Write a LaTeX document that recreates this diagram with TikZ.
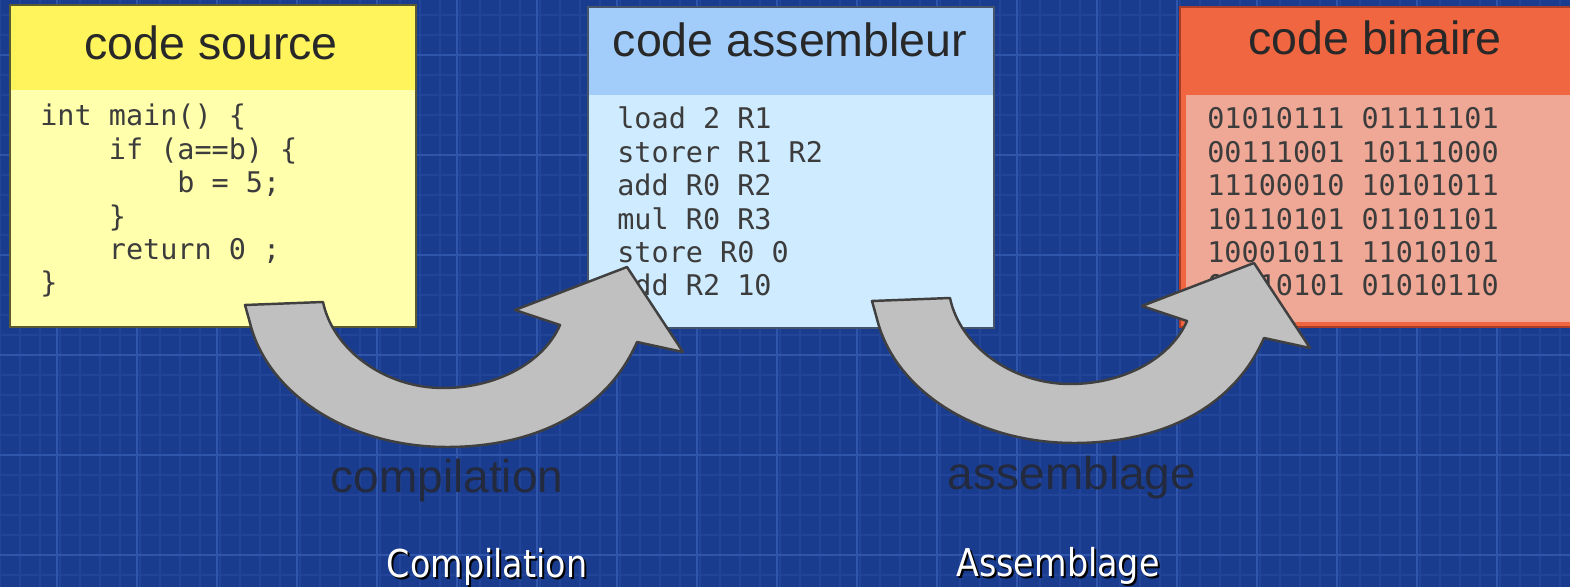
\documentclass[tikz,border=0pt]{standalone}
\usepackage{fontspec}
\setmainfont{Liberation Sans}
\newfontfamily\codefont{DejaVu Sans Mono}
\newfontfamily\slidefont{DejaVu Sans}
\definecolor{bgblue}{RGB}{26,60,143}
\definecolor{gridminor}{RGB}{34,69,153}
\definecolor{gridmajor}{RGB}{48,86,172}
\definecolor{srchead}{RGB}{255,244,92}
\definecolor{srcbody}{RGB}{255,255,172}
\definecolor{srcline}{RGB}{90,90,50}
\definecolor{asmhead}{RGB}{162,205,250}
\definecolor{asmbody}{RGB}{206,235,255}
\definecolor{asmline}{RGB}{70,85,105}
\definecolor{binhead}{RGB}{240,102,64}
\definecolor{binbody}{RGB}{240,168,150}
\definecolor{binline}{RGB}{170,60,40}
\definecolor{titlegray}{RGB}{40,40,40}
\definecolor{codegray}{RGB}{60,60,60}
\definecolor{arrowgray}{RGB}{192,192,192}
\definecolor{stepgray}{RGB}{36,42,62}

\tikzset{
  bigarrow/.pic={
    \draw[fill=arrowgray, draw=black!75, line width=1.4pt, line join=round]
      (0,0) -- (78,-3) .. controls (88,45) and (140,83) .. (198,83)
      .. controls (255,83) and (300,55) .. (315,20) -- (270,5) -- (382,-38)
      -- (438,47) -- (392,37) .. controls (360,110) and (285,142) .. (202,142)
      .. controls (105,142) and (23,90) .. (5,18) -- cycle;
  }
}

\begin{document}
\begin{tikzpicture}[x=0.02cm, y=-0.02cm,
    title/.style={font=\fontsize{26.5}{30}\selectfont, text=titlegray, inner sep=0, anchor=base},
    code/.style={font=\codefont\fontsize{16.2}{19}\selectfont, text=codegray, inner sep=0, anchor=base west},
    steplabel/.style={font=\fontsize{26.2}{30}\selectfont, text=stepgray, inner sep=0, anchor=base},
    slidelabel/.style={font=\slidefont\fontsize{19}{22}\selectfont, inner sep=0, anchor=base, yscale=1.15}]
  \useasboundingbox (0,0) rectangle (1570,587);
  \clip (0,0) rectangle (1570,587);

  % blueprint background
  \fill[bgblue] (0,0) rectangle (1570,587);
  \foreach \gx in {0,20,...,1560} \draw[gridminor, line width=0.8pt] (\gx,0) -- (\gx,587);
  \foreach \gy in {15,35,...,575} \draw[gridminor, line width=0.8pt] (0,\gy) -- (1570,\gy);
  \foreach \gx in {57,137,...,1560} \draw[gridmajor, line width=1pt] (\gx,0) -- (\gx,587);
  \foreach \gy in {55,155,...,575} \draw[gridmajor, line width=1pt] (0,\gy) -- (1570,\gy);

  % code source
  \fill[srcbody] (10,5) rectangle (416,327);
  \fill[srchead] (10,5) rectangle (416,90);
  \draw[srcline, line width=1.2pt] (10,5) rectangle (416,327);
  \node[title] (srctitle) at (211,60) {code source};
  \foreach \ln [count=\i] in {{int main() \{},{\ \ \ \ if (a==b) \{},{\ \ \ \ \ \ \ \ b = 5;},{\ \ \ \ \}},{\ \ \ \ return 0 ;},{\}}}
    \node[code] (src-\i) at (40,92.6+33.4*\i) {\ln};

  % code assembleur
  \fill[asmbody] (588,7) rectangle (994,328);
  \fill[asmhead] (588,7) rectangle (994,95);
  \draw[asmline, line width=1.2pt] (588,7) rectangle (994,328);
  \node[title] (asmtitle) at (790,57) {code assembleur};
  \foreach \ln [count=\i] in {{load 2 R1},{storer R1 R2},{add R0 R2},{mul R0 R3},{store R0 0},{add R2 10}}
    \node[code] (asm-\i) at (617,95.6+33.4*\i) {\ln};

  % code binaire
  \fill[binhead] (1180,7) rectangle (1600,327);
  \fill[binbody] (1186,95) rectangle (1600,322);
  \draw[binline, line width=1.2pt] (1180,7) rectangle (1600,327);
  \node[title] (bintitle) at (1375,55) {code binaire};
  \foreach \ln [count=\i] in {{01010111 01111101},{00111001 10111000},{11100010 10101011},{10110101 01101101},{10001011 11010101},{01010101 01010110}}
    \node[code] (bin-\i) at (1207,95.6+33.4*\i) {\ln};

  % big curved arrows
  \pic at (245,305) {bigarrow};
  \pic at (872,301) {bigarrow};

  \node[steplabel] (compil) at (447,493) {compilation};
  \node[steplabel] (assemb) at (1072,490) {assemblage};

  % slide captions
  \node[slidelabel, text=black] (compilshadow) at (489,580) {Compilation};
  \node[slidelabel, text=white] (compilcap) at (487,578) {Compilation};
  \node[slidelabel, text=black] (assembshadow) at (1060,579) {Assemblage};
  \node[slidelabel, text=white] (assembcap) at (1058,577) {Assemblage};
\end{tikzpicture}
\end{document}
